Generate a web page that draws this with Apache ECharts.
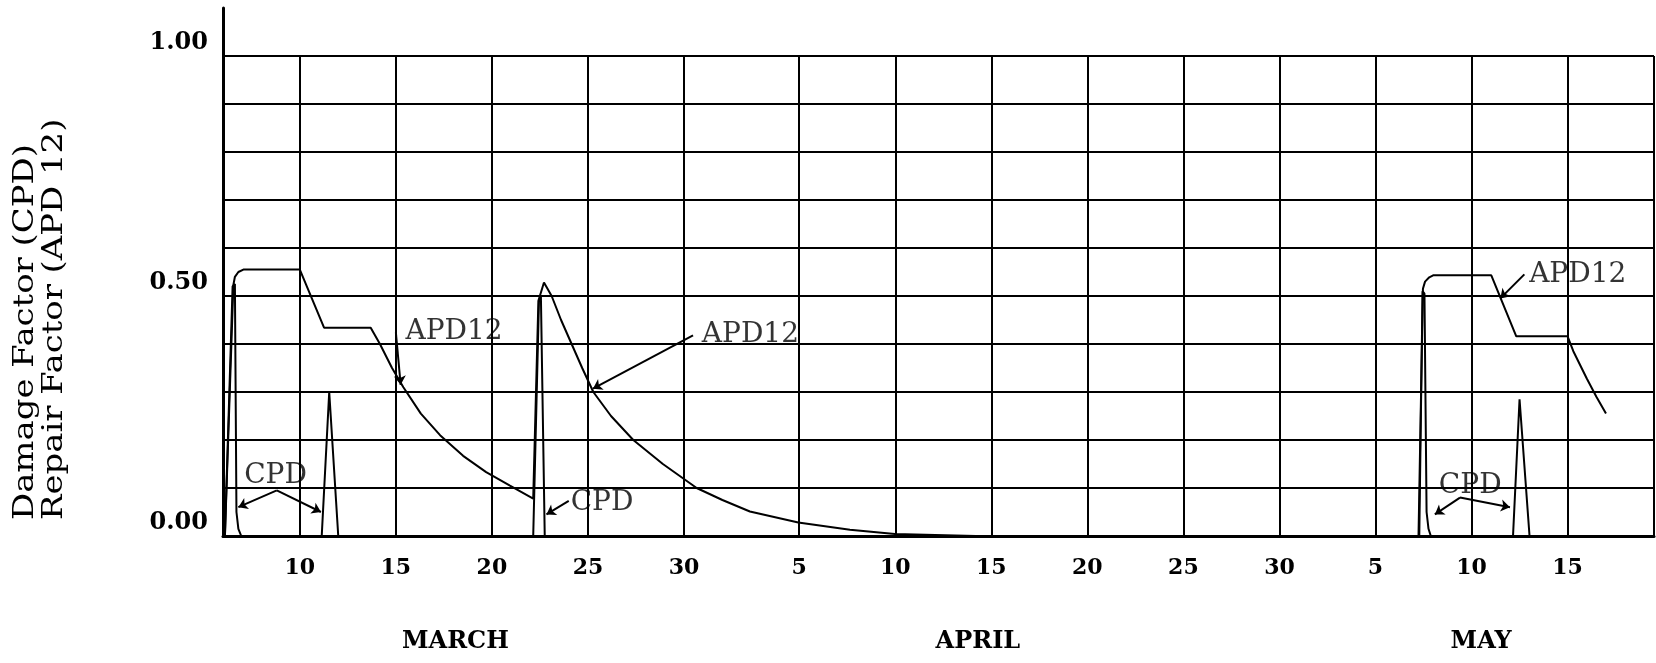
<!DOCTYPE html>
<html>
<head>
<meta charset="utf-8">
<title>Damage factor and repair factor</title>
<script src="https://cdn.jsdelivr.net/npm/echarts@6.0.0/dist/echarts.min.js"></script>
<style>
  html, body { margin: 0; padding: 0; background: #fff; }
  #chart { width: 1656px; height: 663px; }
</style>
</head>
<body>
<div id="chart"></div>
<script>
// x is a day count from 1 March (1 April = 32, 1 May = 62)
const tickDays = [10, 15, 20, 25, 30, 36, 41, 46, 51, 56, 61, 66, 71, 76]
const tickLabels = ['10', '15', '20', '25', '30', '5', '10', '15', '20', '25', '30', '5', '10', '15']
const monthDays = [18.1, 45.3, 71.5]
const monthNames = ['MARCH', 'APRIL', 'MAY']
const yLabelValues = [0, 0.5, 1]
const yTitle = ['Damage Factor (CPD)', 'Repair Factor (APD 12)']

// CPD (damage factor), one array per spike
const cpdMar1 = [[6.1, 0], [6.5, 0.52], [6.62, 0.525], [6.7, 0.05], [6.8, 0.015], [6.95, 0]]
const cpdMar2 = [[11.14, 0], [11.53, 0.3], [12.0, 0]]
const cpdMar3 = [[22.15, 0], [22.45, 0.49], [22.55, 0.5], [22.75, 0]]
const cpdMay1 = [[68.28, 0], [68.45, 0.51], [68.55, 0.505], [68.66, 0.05], [68.76, 0.015], [68.88, 0]]
const cpdMay2 = [[73.16, 0], [73.5, 0.285], [74.02, 0]]

// APD 12 (repair factor)
const apdMarch = [
  [6.1, 0], [6.54, 0.523], [6.62, 0.54], [6.8, 0.55], [7.06, 0.555], [10.0, 0.555],
  [11.26, 0.434], [13.69, 0.434], [14.17, 0.40], [14.8, 0.35], [15.39, 0.31], [16.3, 0.255],
  [17.3, 0.21], [18.5, 0.167], [19.7, 0.133], [20.94, 0.105], [22.15, 0.078],
  [22.42, 0.49], [22.71, 0.528], [23.11, 0.5], [23.6, 0.45], [24.15, 0.40], [24.7, 0.35],
  [25.28, 0.30], [26.2, 0.25], [27.36, 0.20], [28.9, 0.15], [30.66, 0.10], [32.0, 0.075],
  [33.43, 0.051], [35.95, 0.028], [38.64, 0.013], [40.98, 0.004], [45.2, 0]
]
const apdMay = [
  [68.24, 0], [68.47, 0.515], [68.58, 0.53], [68.8, 0.539], [69.0, 0.543], [72.03, 0.543],
  [73.33, 0.416], [76.0, 0.416], [76.3, 0.385], [77.0, 0.328], [77.5, 0.29], [78.0, 0.255]
]

// notes on the plot: [day, value, text]
const notes = [
  [15.5, 0.426, 'APD12'],
  [30.93, 0.42, 'APD12'],
  [74.0, 0.545, 'APD12'],
  [7.1, 0.125, 'CPD'],
  [24.1, 0.07, 'CPD'],
  [69.3, 0.105, 'CPD']
]
// arrows from a note to the curve: [fromDay, fromValue, toDay, toValue]
const leaders = [
  [15.0, 0.424, 15.25, 0.315],
  [30.47, 0.418, 25.26, 0.307],
  [73.75, 0.545, 72.5, 0.495],
  [8.8, 0.095, 6.8, 0.06],
  [8.8, 0.095, 11.1, 0.05],
  [24.0, 0.073, 22.84, 0.045],
  [70.4, 0.08, 69.09, 0.045],
  [70.4, 0.08, 73.0, 0.06]
]

function pick (values, names, v) {
  for (let i = 0; i < values.length; i++) {
    if (Math.abs(values[i] - v) < 1e-6) return names[i]
  }
  return ''
}

function curve (name, data) {
  return {
    name: name,
    type: 'line',
    data: data,
    symbol: 'none',
    silent: true,
    z: 3,
    lineStyle: { color: '#000', width: 2 }
  }
}

let myChart = echarts.init(document.getElementById('chart'))

let option = {
  animation: false,
  backgroundColor: '#fff',
  textStyle: { fontFamily: 'DejaVu Serif', color: '#000' },
  grid: [
    { left: 223, right: 2, top: 56, bottom: 127, outerBoundsMode: 'none' },
    { left: 223, right: 2, top: 8, bottom: 127, outerBoundsMode: 'none' }
  ],
  xAxis: [
    {
      gridIndex: 0,
      type: 'value',
      min: 6,
      max: 80.5,
      axisLine: { lineStyle: { color: '#000', width: 3 } },
      axisTick: { show: false, customValues: tickDays.concat([80.5]) },
      splitLine: { show: true, lineStyle: { color: '#000', width: 2 } },
      axisLabel: {
        customValues: tickDays,
        formatter: function (v) { return pick(tickDays, tickLabels, v) },
        margin: 21,
        color: '#000',
        fontFamily: 'DejaVu Serif',
        fontWeight: 'bold',
        fontSize: 22
      }
    },
    {
      gridIndex: 0,
      type: 'value',
      position: 'bottom',
      min: 6,
      max: 80.5,
      axisLine: { show: false },
      axisTick: { show: false },
      splitLine: { show: false },
      axisLabel: {
        customValues: monthDays,
        formatter: function (v) { return pick(monthDays, monthNames, v) },
        margin: 106,
        verticalAlign: 'middle',
        color: '#000',
        fontFamily: 'DejaVu Serif',
        fontWeight: 'bold',
        fontSize: 24
      }
    },
    { gridIndex: 1, type: 'value', min: 6, max: 80.5, show: false }
  ],
  yAxis: [
    {
      gridIndex: 0,
      type: 'value',
      min: 0,
      max: 1,
      interval: 0.1,
      axisLine: { show: true, lineStyle: { color: '#000', width: 3 } },
      axisTick: { show: false },
      splitLine: { show: true, lineStyle: { color: '#000', width: 2 } },
      axisLabel: {
        customValues: yLabelValues,
        formatter: function (v) { return v.toFixed(2) },
        margin: 15,
        verticalAlign: 'bottom',
        lineHeight: 26,
        color: '#000',
        fontFamily: 'DejaVu Serif',
        fontWeight: 'bold',
        fontSize: 24
      }
    },
    {
      gridIndex: 1,
      type: 'value',
      min: 0,
      max: 1.1,
      axisLine: { show: true, lineStyle: { color: '#000', width: 3 } },
      axisTick: { show: false },
      axisLabel: { show: false },
      splitLine: { show: false }
    }
  ],
  graphic: yTitle.map(function (t, i) {
    return {
      type: 'text',
      x: 26 + i * 29,
      y: 520,
      rotation: Math.PI / 2,
      scaleX: 1.21,
      style: {
        text: t,
        font: '28px "DejaVu Serif"',
        fill: '#000',
        align: 'left',
        verticalAlign: 'middle',
        textAlign: 'left',
        textVerticalAlign: 'middle'
      }
    }
  }),
  series: [
    curve('CPD', cpdMar1),
    curve('CPD', cpdMar2),
    curve('CPD', cpdMar3),
    curve('CPD', cpdMay1),
    curve('CPD', cpdMay2),
    curve('APD12', apdMarch),
    curve('APD12', apdMay),
    {
      name: 'notes',
      type: 'scatter',
      symbolSize: 0,
      silent: true,
      z: 4,
      data: notes.map(function (n) { return { value: [n[0], n[1]], name: n[2] } }),
      label: {
        show: true,
        position: 'right',
        distance: 0,
        formatter: '{b}',
        color: '#000',
        fontFamily: 'DejaVu Serif',
        fontSize: 28
      },
      markLine: {
        silent: true,
        symbol: ['none', 'arrow'],
        symbolSize: 9,
        label: { show: false },
        lineStyle: { color: '#000', width: 2, type: 'solid', curveness: 0.3 },
        data: leaders.map(function (l) {
          return [{ coord: [l[0], l[1]] }, { coord: [l[2], l[3]] }]
        })
      }
    }
  ]
}

myChart.setOption(option)
</script>
</body>
</html>
